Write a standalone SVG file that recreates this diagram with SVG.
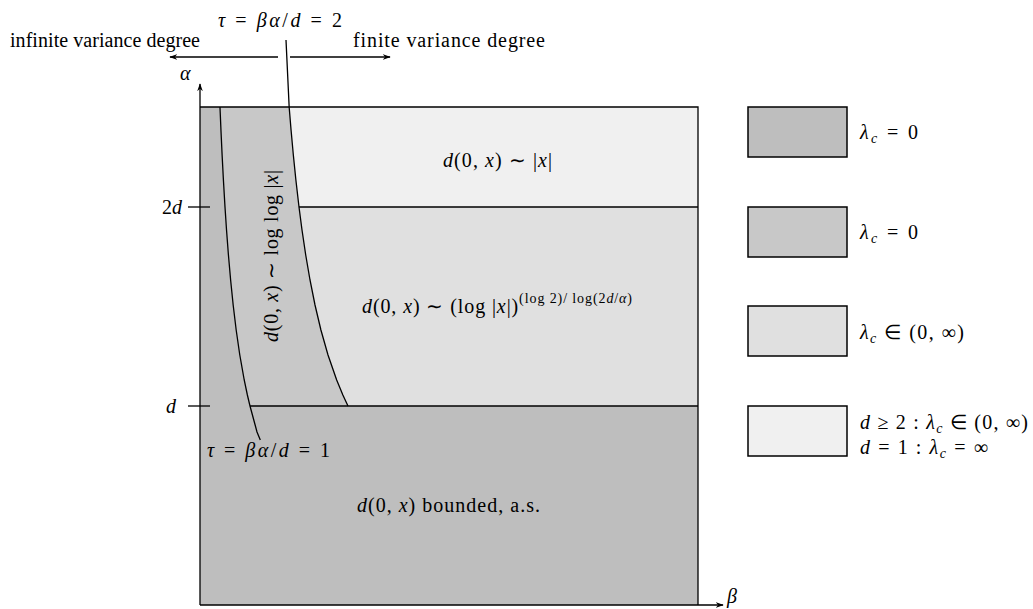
<svg xmlns="http://www.w3.org/2000/svg" width="1033" height="609" viewBox="0 0 1033 609">
<style>
text{font-family:"Liberation Serif","Times New Roman",serif;font-size:20px;fill:#000}
.i{font-style:italic}
.ln{fill:none;stroke:#000;stroke-width:1.3}
.box{stroke:#000;stroke-width:1.5}
.sup{font-size:14px}
.sub{font-size:14px}
</style>
<defs>
<marker id="ah" viewBox="0 0 10 10" refX="9" refY="5" markerWidth="8" markerHeight="8" markerUnits="userSpaceOnUse" orient="auto">
<path d="M0,1.5 L10,5 L0,8.5 L3,5 Z" fill="#000"/>
</marker>
</defs>
<rect width="1033" height="609" fill="#fff"/>
<g id="regions">
<rect x="200" y="406" width="498" height="199" fill="#bebebe"/>
<polygon fill="#bebebe" points="200,107 219.98,107 220.95,130 222.11,155 223.41,180 225,207 226.53,230 228.43,255 230.62,280 233.17,305 236.18,330 239.8,355 244.22,380 247.38,395 250,406 200,406"/>
<polygon fill="#c8c8c8" points="219.98,107 220.95,130 222.11,155 223.41,180 225,207 226.53,230 228.43,255 230.62,280 233.17,305 236.18,330 239.8,355 244.22,380 247.38,395 250,406 348,406 342.87,395 336.68,380 328.01,355 320.92,330 315.01,305 310.01,280 305.72,255 302.01,230 299,207 295.89,180 293.34,155 291.06,130 289.16,107"/>
<polygon fill="#f0f0f0" points="289.16,107 698,107 698,207 299,207 295.89,180 293.34,155 291.06,130"/>
<polygon fill="#e0e0e0" points="299,207 698,207 698,406 348,406 342.87,395 336.68,380 328.01,355 320.92,330 315.01,305 310.01,280 305.72,255 302.01,230"/>
</g>
<g id="connectors">
<line class="ln" x1="200" y1="605" x2="200" y2="84" marker-end="url(#ah)"/>
<line class="ln" x1="200" y1="605" x2="723" y2="605" marker-end="url(#ah)"/>
<polyline class="ln" points="200,107 698,107 698,605"/>
<line class="ln" x1="299" y1="207" x2="698" y2="207"/>
<line class="ln" x1="250" y1="406" x2="698" y2="406"/>
<line class="ln" x1="188" y1="207" x2="210" y2="207"/>
<line class="ln" x1="188" y1="406" x2="210" y2="406"/>
<polyline class="ln" points="219.98,107 220.95,130 222.11,155 223.41,180 225,207 226.53,230 228.43,255 230.62,280 233.17,305 236.18,330 239.8,355 244.22,380 247.38,395 250,406 253.78,420 257,432 260.3,440"/>
<polyline class="ln" points="286,40 289.16,107 291.06,130 293.34,155 295.89,180 299,207 302.01,230 305.72,255 310.01,280 315.01,305 320.92,330 328.01,355 336.68,380 342.87,395 348,406"/>
<line class="ln" x1="278" y1="57" x2="170" y2="57" marker-end="url(#ah)"/>
<line class="ln" x1="290" y1="57" x2="390" y2="57" marker-end="url(#ah)"/>
</g>
<g id="labels">
<text x="218" y="27" textLength="124" lengthAdjust="spacing"><tspan class="i">τ</tspan> = <tspan class="i">βα</tspan>/<tspan class="i">d</tspan> = 2</text>
<text x="10" y="47" textLength="190" lengthAdjust="spacing">infinite variance degree</text>
<text x="353" y="47" textLength="192" lengthAdjust="spacing">finite variance degree</text>
<text x="180" y="80" class="i">α</text>
<text x="727" y="603" class="i" font-size="18">β</text>
<text x="182" y="214" text-anchor="end">2<tspan class="i">d</tspan></text>
<text x="176" y="413" text-anchor="end" class="i">d</text>
<text x="443" y="167" textLength="109" lengthAdjust="spacing"><tspan class="i">d</tspan>(0, <tspan class="i">x</tspan>) ∼ |<tspan class="i">x</tspan>|</text>
<text x="362" y="313" textLength="270" lengthAdjust="spacing"><tspan class="i">d</tspan>(0, <tspan class="i">x</tspan>) ∼ (log |<tspan class="i">x</tspan>|)<tspan class="sup" dy="-10">(log 2)/ log(2<tspan class="i">d</tspan>/<tspan class="i">α</tspan>)</tspan></text>
<text transform="translate(278,256) rotate(-90)" x="-86" textLength="172" lengthAdjust="spacing"><tspan class="i">d</tspan>(0, <tspan class="i">x</tspan>) ∼ log log |<tspan class="i">x</tspan>|</text>
<text x="207" y="457" textLength="123" lengthAdjust="spacing"><tspan class="i">τ</tspan> = <tspan class="i">βα</tspan>/<tspan class="i">d</tspan> = 1</text>
<text x="357" y="512" textLength="183" lengthAdjust="spacing"><tspan class="i">d</tspan>(0, <tspan class="i">x</tspan>) bounded, a.s.</text>
</g>
<g id="legend1">
<rect class="box" x="748" y="107" width="99" height="50" fill="#bebebe"/>
<text x="860" y="139" textLength="58" lengthAdjust="spacing"><tspan class="i">λ</tspan><tspan class="sub i" dy="4">c</tspan><tspan dy="-4"> = 0</tspan></text>
</g>
<g id="legend2">
<rect class="box" x="748" y="207" width="99" height="50" fill="#c8c8c8"/>
<text x="860" y="239" textLength="58" lengthAdjust="spacing"><tspan class="i">λ</tspan><tspan class="sub i" dy="4">c</tspan><tspan dy="-4"> = 0</tspan></text>
</g>
<g id="legend3">
<rect class="box" x="748" y="306" width="99" height="50" fill="#e0e0e0"/>
<text x="860" y="339" textLength="104" lengthAdjust="spacing"><tspan class="i">λ</tspan><tspan class="sub i" dy="4">c</tspan><tspan dy="-4"> ∈ (0, ∞)</tspan></text>
</g>
<g id="legend4">
<rect class="box" x="748" y="406" width="99" height="50" fill="#f0f0f0"/>
<text x="860" y="429" textLength="168" lengthAdjust="spacing"><tspan class="i">d</tspan> ≥ 2 : <tspan class="i">λ</tspan><tspan class="sub i" dy="4">c</tspan><tspan dy="-4"> ∈ (0, ∞)</tspan></text>
<text x="860" y="454" textLength="128" lengthAdjust="spacing"><tspan class="i">d</tspan> = 1 : <tspan class="i">λ</tspan><tspan class="sub i" dy="4">c</tspan><tspan dy="-4"> = ∞</tspan></text>
</g>
</svg>
